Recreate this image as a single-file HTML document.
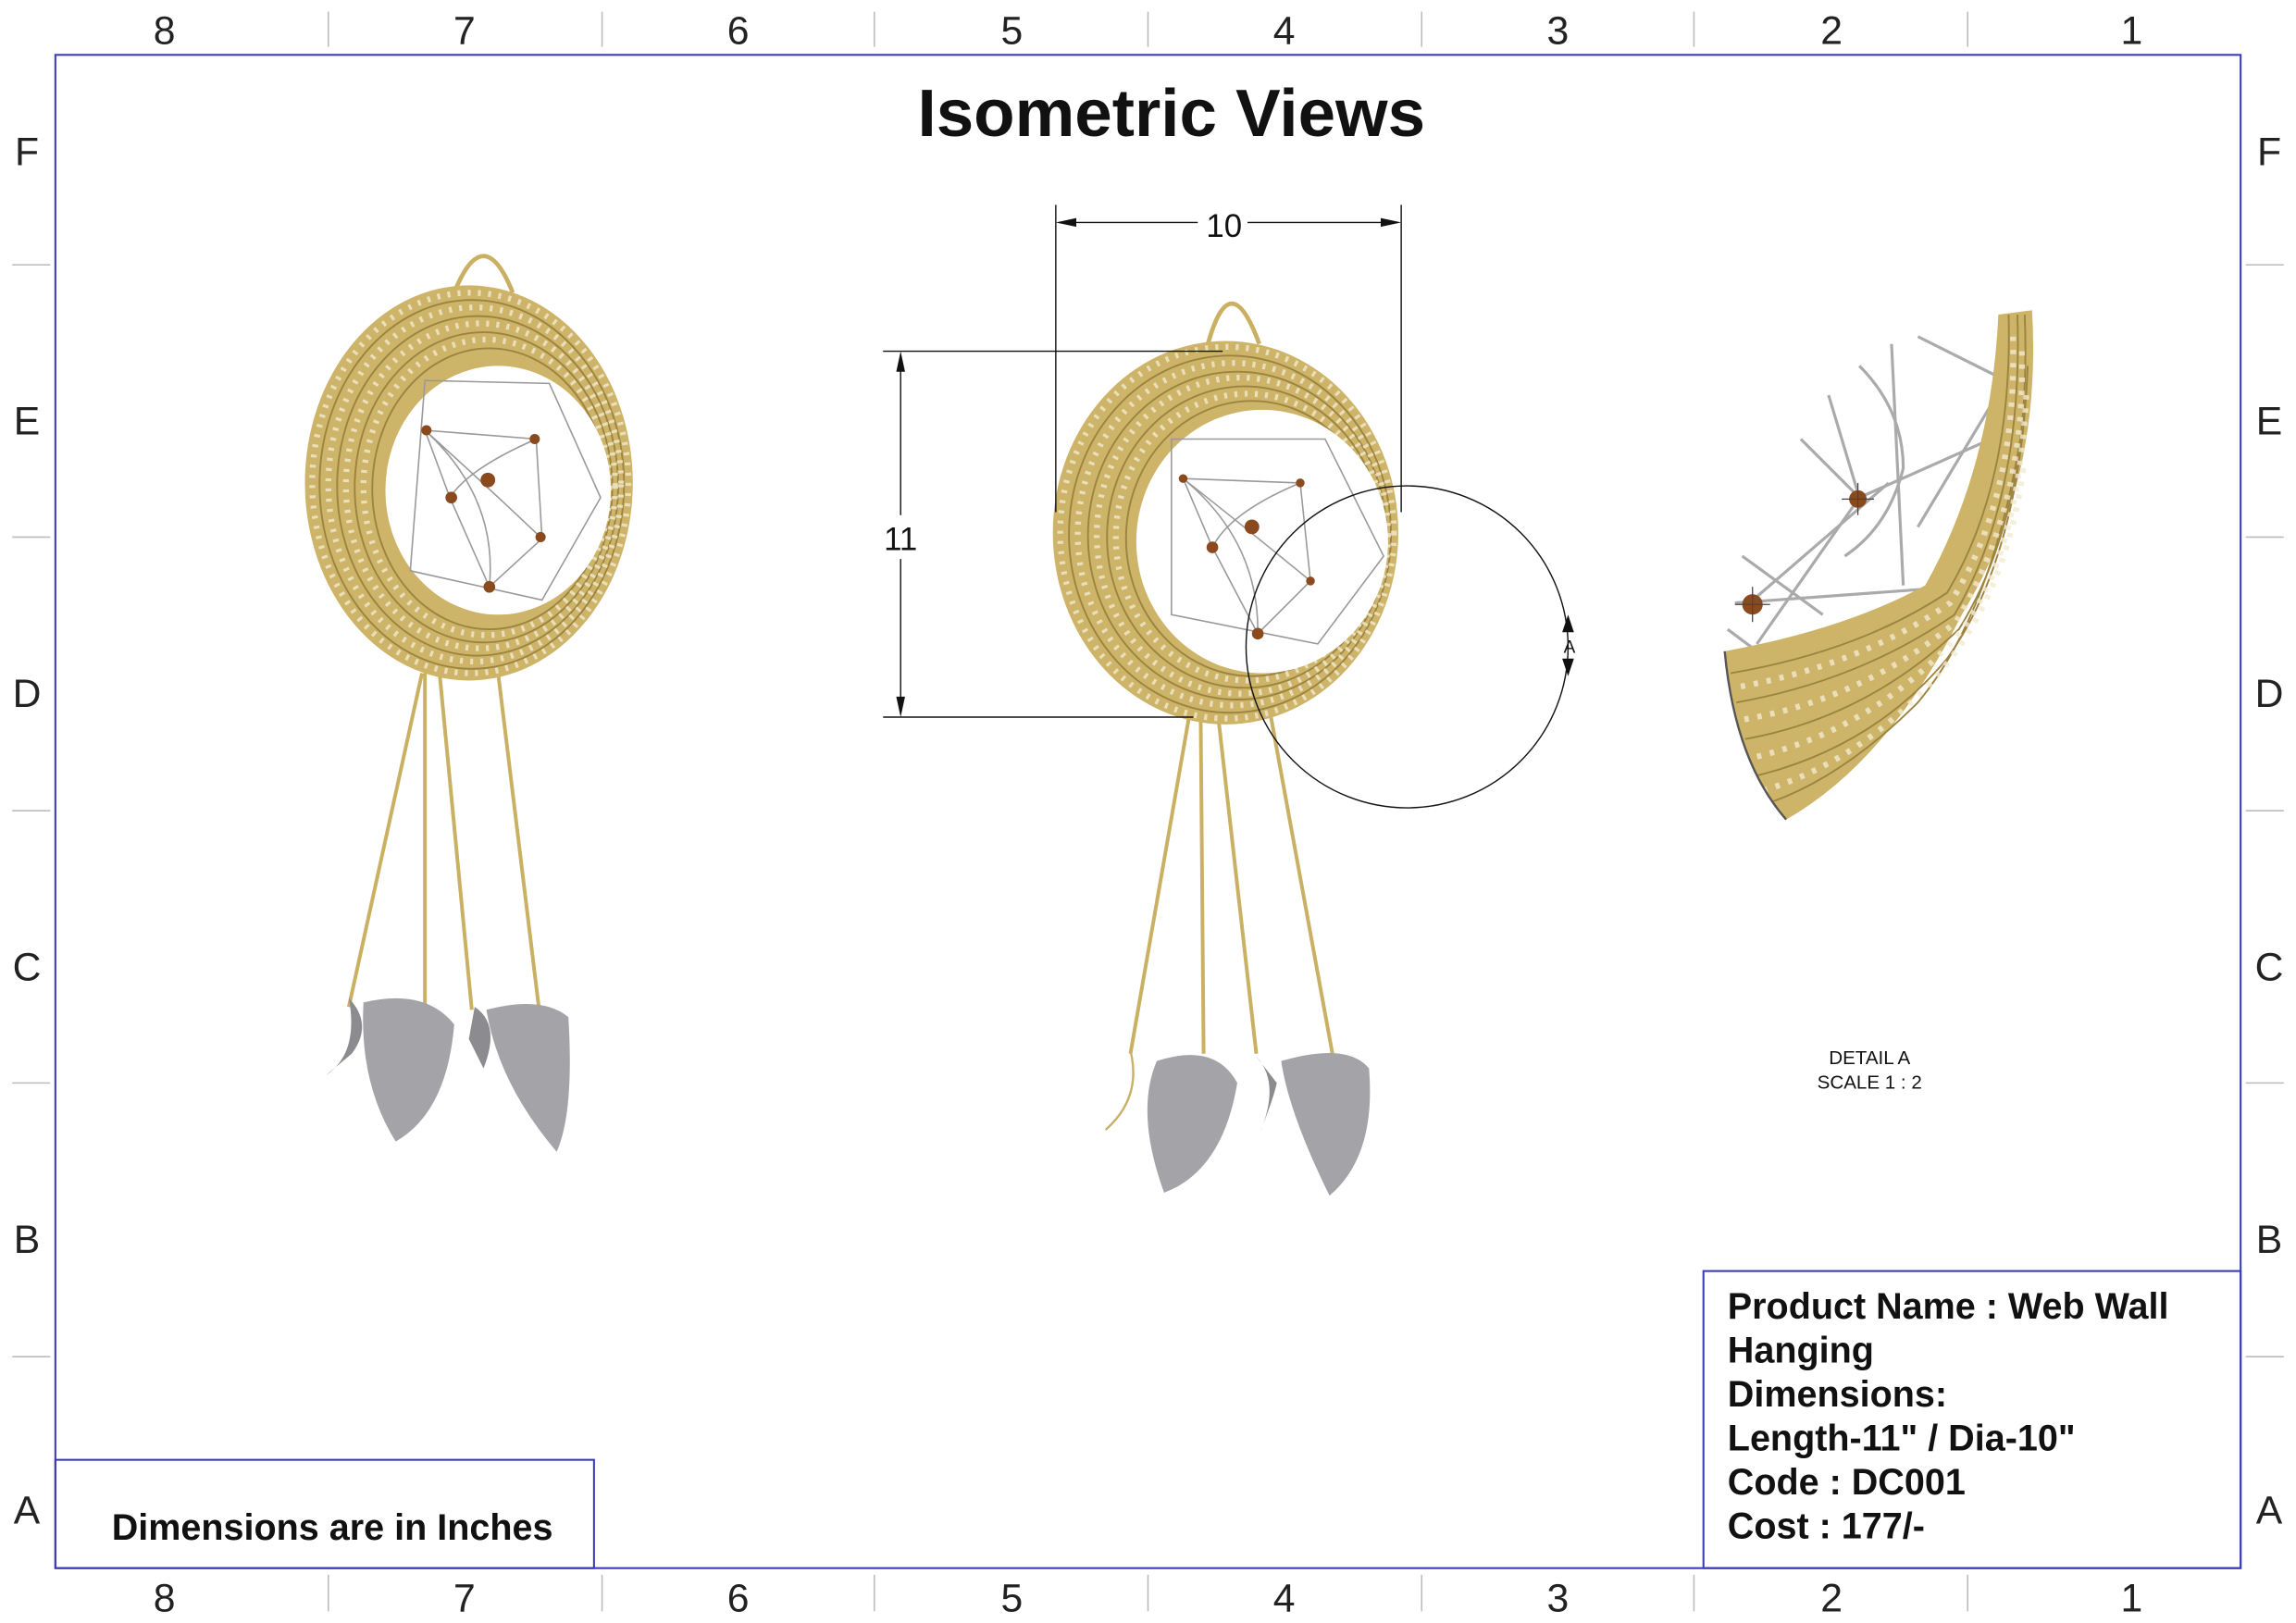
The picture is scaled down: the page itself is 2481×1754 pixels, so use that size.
<!DOCTYPE html>
<html><head><meta charset="utf-8">
<style>
html,body{margin:0;padding:0;background:#fff;}
svg{display:block;}
text{font-family:"Liberation Sans",sans-serif;}
</style></head>
<body>
<svg width="2481" height="1754" viewBox="0 0 1568 1109" xmlns="http://www.w3.org/2000/svg">
<rect x="0" y="0" width="1568" height="1109" fill="#fff"/>
<rect x="37.5" y="37.5" width="1493" height="1034" fill="none" stroke="#3a3ab8" stroke-width="1.3"/>
<g stroke="#bbb" stroke-width="1">
<line x1="224" y1="8" x2="224" y2="32"/><line x1="411" y1="8" x2="411" y2="32"/><line x1="597" y1="8" x2="597" y2="32"/><line x1="784" y1="8" x2="784" y2="32"/><line x1="971" y1="8" x2="971" y2="32"/><line x1="1157" y1="8" x2="1157" y2="32"/><line x1="1344" y1="8" x2="1344" y2="32"/>
<line x1="224" y1="1076" x2="224" y2="1101"/><line x1="411" y1="1076" x2="411" y2="1101"/><line x1="597" y1="1076" x2="597" y2="1101"/><line x1="784" y1="1076" x2="784" y2="1101"/><line x1="971" y1="1076" x2="971" y2="1101"/><line x1="1157" y1="1076" x2="1157" y2="1101"/><line x1="1344" y1="1076" x2="1344" y2="1101"/>
<line x1="8" y1="181" x2="34" y2="181"/><line x1="8" y1="367" x2="34" y2="367"/><line x1="8" y1="554" x2="34" y2="554"/><line x1="8" y1="740" x2="34" y2="740"/><line x1="8" y1="927" x2="34" y2="927"/>
<line x1="1534" y1="181" x2="1560" y2="181"/><line x1="1534" y1="367" x2="1560" y2="367"/><line x1="1534" y1="554" x2="1560" y2="554"/><line x1="1534" y1="740" x2="1560" y2="740"/><line x1="1534" y1="927" x2="1560" y2="927"/>
</g>
<g font-size="27" fill="#222" text-anchor="middle">
<text x="112" y="30">8</text><text x="317" y="30">7</text><text x="504" y="30">6</text><text x="691" y="30">5</text><text x="877" y="30">4</text><text x="1064" y="30">3</text><text x="1251" y="30">2</text><text x="1456" y="30">1</text>
<text x="112" y="1101">8</text><text x="317" y="1101">7</text><text x="504" y="1101">6</text><text x="691" y="1101">5</text><text x="877" y="1101">4</text><text x="1064" y="1101">3</text><text x="1251" y="1101">2</text><text x="1456" y="1101">1</text>
<text x="18" y="113">F</text><text x="18" y="297">E</text><text x="18" y="483">D</text><text x="18" y="670">C</text><text x="18" y="856">B</text><text x="18" y="1041">A</text>
<text x="1550" y="113">F</text><text x="1550" y="297">E</text><text x="1550" y="483">D</text><text x="1550" y="670">C</text><text x="1550" y="856">B</text><text x="1550" y="1041">A</text>
</g>
<text x="800" y="93" font-size="46" font-weight="bold" text-anchor="middle" fill="#111">Isometric Views</text>

<!-- LEFT VIEW -->
<g>
<path d="M310 200 Q330 150 350 200" fill="none" stroke="#c9b063" stroke-width="3"/>
<g stroke="#c9b063" stroke-width="2.5">
<line x1="288" y1="460" x2="238" y2="688"/><line x1="290" y1="460" x2="290" y2="688"/><line x1="300" y1="460" x2="322" y2="690"/><line x1="340" y1="460" x2="368" y2="690"/>
</g>
<ellipse cx="320" cy="330" rx="112" ry="135" fill="#cdb468"/>
<g fill="none" stroke="#9c8440" stroke-width="1.2">
<ellipse cx="322" cy="331" rx="104" ry="126"/><ellipse cx="326" cy="332" rx="96" ry="116"/><ellipse cx="330" cy="333" rx="88" ry="106"/><ellipse cx="334" cy="334" rx="80" ry="96"/>
</g>
<g stroke="#f3ead0" stroke-width="4" stroke-dasharray="2 5" fill="none" opacity=".8">
<ellipse cx="321" cy="330" rx="108" ry="130"/><ellipse cx="324" cy="331" rx="100" ry="121"/><ellipse cx="328" cy="332" rx="92" ry="111"/><ellipse cx="332" cy="333" rx="84" ry="101"/>
</g>
<ellipse cx="340" cy="335" rx="77" ry="85" fill="#fff"/>
<g stroke="#999" stroke-width="1" fill="none">
<path d="M290 260 L375 262 L410 340 L370 410 L280 390 Z"/>
<path d="M290 294 L366 300 L370 368 L334 401 L307 340 Z"/>
<path d="M290 294 Q340 340 334 401 M366 300 Q320 320 307 340 M370 368 Q330 330 290 294"/>
</g>
<g fill="#8a4a1e"><circle cx="291" cy="294" r="3.5"/><circle cx="365" cy="300" r="3.5"/><circle cx="333" cy="328" r="5"/><circle cx="308" cy="340" r="4"/><circle cx="369" cy="367" r="3.5"/><circle cx="334" cy="401" r="4"/></g>
<path d="M248 685 Q290 675 310 700 Q305 760 270 780 Q245 740 248 685Z" fill="#a4a4a8"/>
<path d="M238 682 Q255 700 240 720 L222 735 Q245 720 238 682Z" fill="#8c8c90"/>
<path d="M332 690 Q370 680 388 695 Q392 760 380 787 Q340 740 332 690Z" fill="#a4a4a8"/>
<path d="M324 688 Q342 700 330 730 L320 710 Z" fill="#8c8c90"/>
</g>

<!-- MIDDLE VIEW -->
<g>
<path d="M825 235 Q840 180 860 235" fill="none" stroke="#c9b063" stroke-width="3"/>
<g stroke="#c9b063" stroke-width="2.5">
<line x1="812" y1="490" x2="772" y2="720"/><line x1="820" y1="490" x2="822" y2="720"/><line x1="832" y1="490" x2="858" y2="720"/><line x1="868" y1="490" x2="910" y2="720"/>
</g>
<path d="M772 718 Q780 750 755 772" fill="none" stroke="#c9b063" stroke-width="1.5"/>
<ellipse cx="837" cy="364" rx="118" ry="131" fill="#cdb468"/>
<g fill="none" stroke="#9c8440" stroke-width="1.2">
<ellipse cx="840" cy="365" rx="110" ry="122"/><ellipse cx="845" cy="366" rx="102" ry="112"/><ellipse cx="850" cy="367" rx="94" ry="103"/><ellipse cx="855" cy="368" rx="86" ry="94"/>
</g>
<g stroke="#f3ead0" stroke-width="4" stroke-dasharray="2 5" fill="none" opacity=".8">
<ellipse cx="838" cy="364" rx="114" ry="127"/><ellipse cx="842" cy="365" rx="106" ry="117"/><ellipse cx="847" cy="366" rx="98" ry="108"/><ellipse cx="852" cy="367" rx="90" ry="98"/>
</g>
<ellipse cx="862" cy="370" rx="86" ry="90" fill="#fff"/>
<g stroke="#999" stroke-width="1" fill="none">
<path d="M800 300 L905 300 L945 380 L900 440 L800 420 Z"/>
<path d="M808 327 L888 330 L895 397 L859 433 L828 374 Z"/>
<path d="M808 327 Q860 370 859 433 M888 330 Q840 350 828 374 M895 397 Q850 360 808 327"/>
</g>
<g fill="#8a4a1e"><circle cx="808" cy="327" r="3"/><circle cx="888" cy="330" r="3"/><circle cx="855" cy="360" r="5"/><circle cx="828" cy="374" r="4"/><circle cx="895" cy="397" r="3"/><circle cx="859" cy="433" r="4"/></g>
<path d="M790 725 Q830 712 845 740 Q835 800 795 815 Q775 760 790 725Z" fill="#a4a4a8"/>
<path d="M875 725 Q920 712 935 730 Q940 790 908 817 Q880 760 875 725Z" fill="#a4a4a8"/>
<path d="M858 722 Q875 740 860 775 Q870 750 872 740Z" fill="#8c8c90"/>
</g>

<g stroke="#111" stroke-width="0.9" fill="none">
<line x1="721" y1="140" x2="721" y2="350"/><line x1="957" y1="140" x2="957" y2="350"/>
<line x1="723" y1="152" x2="818" y2="152"/><line x1="852" y1="152" x2="955" y2="152"/>
<line x1="603" y1="240" x2="835" y2="240"/><line x1="603" y1="490" x2="815" y2="490"/>
<line x1="615" y1="242" x2="615" y2="352"/><line x1="615" y1="382" x2="615" y2="488"/>
<circle cx="961" cy="442" r="110"/>
</g>
<g fill="#111">
<path d="M721 152 L735 149 L735 155Z"/><path d="M957 152 L943 149 L943 155Z"/>
<path d="M615 240 L612 254 L618 254Z"/><path d="M615 490 L612 476 L618 476Z"/>
<path d="M1071 420 L1067 432 L1075 432Z"/><path d="M1071 462 L1067 450 L1075 450Z"/>
</g>
<text x="836" y="162" font-size="22" text-anchor="middle" fill="#111">10</text>
<text x="615" y="376" font-size="22" text-anchor="middle" fill="#111">11</text>
<text x="1072" y="446" font-size="12" text-anchor="middle" fill="#111">A</text>

<!-- DETAIL A -->
<g>
<g stroke="#aaa" stroke-width="2" fill="none">
<line x1="1249" y1="270" x2="1270" y2="340"/><path d="M1270 250 Q1300 280 1300 320 Q1290 360 1260 380"/>
<line x1="1292" y1="235" x2="1300" y2="400"/><line x1="1310" y1="230" x2="1370" y2="260"/>
<line x1="1370" y1="260" x2="1310" y2="360"/><line x1="1230" y1="300" x2="1270" y2="340"/>
<line x1="1270" y1="340" x2="1360" y2="300"/><line x1="1270" y1="340" x2="1200" y2="440"/>
<line x1="1190" y1="380" x2="1245" y2="420"/><line x1="1185" y1="412" x2="1350" y2="400"/>
<line x1="1195" y1="412" x2="1290" y2="330"/><line x1="1180" y1="430" x2="1200" y2="445"/>
</g>
<path d="M1365 215 L1388 212 Q1395 330 1340 420 Q1290 520 1220 560 Q1185 520 1178 445 Q1260 430 1315 400 Q1360 320 1365 215Z" fill="#cdb468"/>
<g fill="none" stroke="#9c8440" stroke-width="1.2">
<path d="M1372 215 Q1375 330 1330 405 Q1270 445 1182 460"/>
<path d="M1378 215 Q1382 340 1335 420 Q1270 465 1186 480"/>
<path d="M1383 215 Q1388 350 1338 430 Q1275 490 1192 505"/>
<path d="M1385 250 Q1380 380 1330 450 Q1280 510 1200 530"/>
<path d="M1380 300 Q1360 420 1310 480 Q1260 530 1210 548"/>
</g>
<g fill="none" stroke="#f3ead0" stroke-width="4" stroke-dasharray="3 6" opacity=".8">
<path d="M1375 230 Q1378 340 1332 412 Q1270 455 1184 470"/>
<path d="M1381 240 Q1384 345 1336 425 Q1272 478 1189 492"/>
<path d="M1384 270 Q1378 390 1332 440 Q1275 500 1196 518"/>
<path d="M1382 320 Q1370 410 1320 465 Q1270 520 1205 540"/>
</g>
<path d="M1178 445 Q1185 520 1220 560" fill="none" stroke="#555" stroke-width="1.5"/>
<circle cx="1269" cy="341" r="6" fill="#8a4a1e"/><circle cx="1197" cy="413" r="7" fill="#8a4a1e"/>
<g stroke="#444" stroke-width=".8"><line x1="1258" y1="341" x2="1280" y2="341"/><line x1="1269" y1="330" x2="1269" y2="352"/><line x1="1185" y1="413" x2="1209" y2="413"/><line x1="1197" y1="401" x2="1197" y2="425"/></g>
</g>
<text x="1277" y="727" font-size="13" text-anchor="middle" fill="#111">DETAIL A</text>
<text x="1277" y="744" font-size="13" text-anchor="middle" fill="#111">SCALE 1 : 2</text>

<rect x="37.5" y="997.5" width="368" height="74" fill="none" stroke="#3a3ab8" stroke-width="1.3"/>
<text x="76" y="1052" font-size="25" font-weight="bold" fill="#111">Dimensions are in Inches</text>
<rect x="1163.5" y="868.5" width="367" height="203" fill="none" stroke="#3a3ab8" stroke-width="1.3"/>
<g font-size="25" font-weight="bold" fill="#111">
<text x="1180" y="901">Product Name : Web Wall</text>
<text x="1180" y="931">Hanging</text>
<text x="1180" y="961">Dimensions:</text>
<text x="1180" y="991">Length-11" / Dia-10"</text>
<text x="1180" y="1021">Code : DC001</text>
<text x="1180" y="1051">Cost : 177/-</text>
</g>
</svg>
</body></html>
